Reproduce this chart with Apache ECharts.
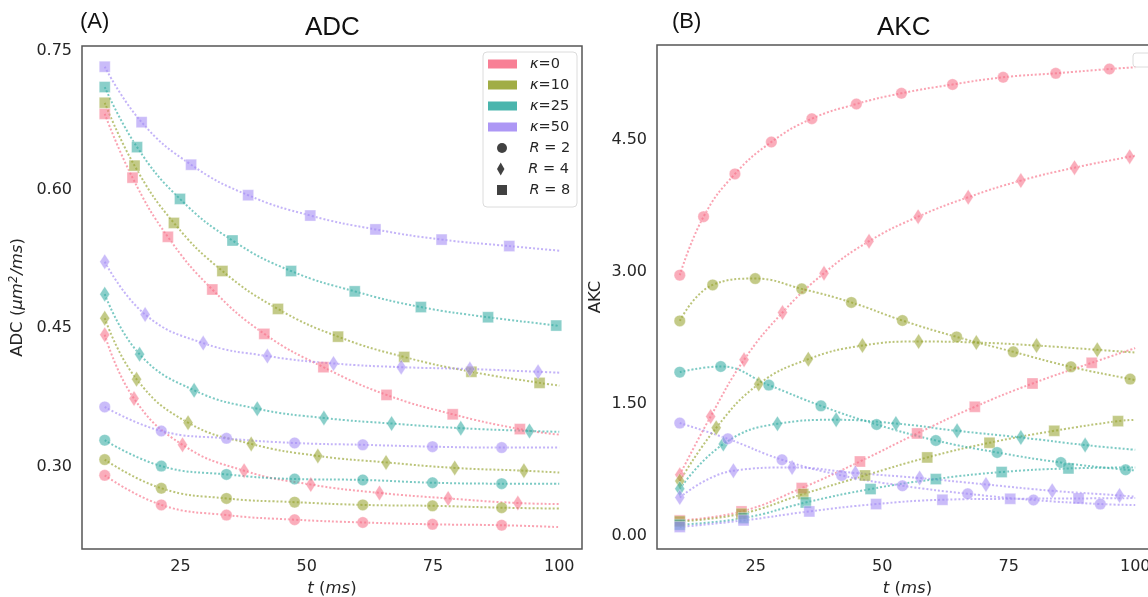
<!DOCTYPE html>
<html>
<head>
<meta charset="utf-8">
<script src="https://cdn.jsdelivr.net/npm/echarts@6/dist/echarts.min.js"></script>
<style>
  html, body { margin: 0; padding: 0; background: #fff; }
  #container { width: 1148px; height: 597px; }
</style>
</head>
<body>
<div id="container"></div>
<script>
// legend names / colours (seaborn husl, 4 colours)
var kappas = ['κ=0', 'κ=10', 'κ=25', 'κ=50'];
var radii = ['R = 2', 'R = 4', 'R = 8'];
var colors = ['#f77189', '#97a431', '#36ada4', '#a48cf4'];

// tick labels
var tTicks = [25, 50, 75, 100];
var adcTicks = [0.30, 0.45, 0.60, 0.75];
var akcTicks = [0.00, 1.50, 3.00, 4.50];

// [t (ms), value]; the last pair of every list is where the fitted line ends (no marker)
// ADC, R = 2
var adcK0R2 = [[10, 0.291], [21.2, 0.259], [34.1, 0.248], [47.6, 0.243], [61.1, 0.240], [74.9, 0.238], [88.6, 0.237], [100, 0.235]];
var adcK10R2 = [[10, 0.308], [21.2, 0.277], [34.1, 0.266], [47.6, 0.262], [61.1, 0.259], [74.9, 0.258], [88.6, 0.256], [100, 0.255]];
var adcK25R2 = [[10, 0.329], [21.2, 0.301], [34.1, 0.292], [47.6, 0.287], [61.1, 0.286], [74.9, 0.283], [88.6, 0.282], [100, 0.282]];
var adcK50R2 = [[10, 0.365], [21.2, 0.339], [34.1, 0.331], [47.6, 0.326], [61.1, 0.324], [74.9, 0.322], [88.6, 0.321], [100, 0.321]];
// ADC, R = 4
var adcK0R4 = [[10, 0.443], [15.8, 0.374], [25.4, 0.324], [37.6, 0.296], [50.8, 0.281], [64.4, 0.272], [78.0, 0.266], [91.8, 0.261], [100, 0.260]];
var adcK10R4 = [[10, 0.461], [16.3, 0.395], [26.5, 0.348], [39.0, 0.325], [52.2, 0.312], [65.7, 0.305], [79.3, 0.299], [93.0, 0.296], [100, 0.294]];
var adcK25R4 = [[10, 0.487], [16.9, 0.422], [27.7, 0.383], [40.2, 0.363], [53.4, 0.353], [66.8, 0.347], [80.5, 0.342], [94.1, 0.339], [100, 0.338]];
var adcK50R4 = [[10, 0.522], [18.0, 0.465], [29.5, 0.434], [42.2, 0.420], [55.3, 0.412], [68.7, 0.408], [82.3, 0.406], [95.8, 0.403], [100, 0.402]];
// ADC, R = 8
var adcK0R8 = [[10, 0.682], [15.5, 0.613], [22.5, 0.549], [31.3, 0.492], [41.6, 0.444], [53.3, 0.408], [65.8, 0.378], [78.9, 0.357], [92.2, 0.341], [100, 0.335]];
var adcK10R8 = [[10, 0.694], [15.9, 0.626], [23.7, 0.564], [33.3, 0.512], [44.3, 0.471], [56.2, 0.441], [69.3, 0.419], [82.6, 0.403], [96.1, 0.391], [100, 0.388]];
var adcK25R8 = [[10, 0.711], [16.4, 0.646], [24.9, 0.590], [35.3, 0.545], [46.9, 0.512], [59.5, 0.490], [72.6, 0.473], [85.9, 0.462], [99.4, 0.453], [100, 0.452]];
var adcK50R8 = [[10, 0.733], [17.3, 0.673], [27.1, 0.627], [38.4, 0.594], [50.7, 0.572], [63.6, 0.557], [76.7, 0.546], [90.1, 0.539], [100, 0.534]];

// AKC, R = 2
var akcK0R2 = [[10, 2.963], [14.7, 3.628], [20.9, 4.114], [28.1, 4.477], [36.1, 4.742], [44.9, 4.909], [53.8, 5.031], [63.9, 5.131], [73.9, 5.213], [84.3, 5.258], [94.9, 5.307], [100, 5.326]];
var akcK10R2 = [[10, 2.443], [16.5, 2.852], [24.9, 2.924], [34.1, 2.807], [43.9, 2.653], [54.0, 2.447], [64.7, 2.261], [75.9, 2.091], [87.3, 1.920], [99.0, 1.781], [100, 1.770]];
var akcK25R2 = [[10, 1.860], [18.1, 1.924], [27.6, 1.713], [37.9, 1.477], [48.9, 1.265], [60.6, 1.083], [72.7, 0.947], [85.3, 0.833], [98.1, 0.750], [100, 0.745]];
var akcK50R2 = [[10, 1.281], [19.5, 1.102], [30.2, 0.864], [42.0, 0.685], [54.0, 0.568], [66.9, 0.477], [79.9, 0.406], [93.1, 0.360], [100, 0.349]];
// AKC, R = 4
var akcK0R4 = [[10, 0.693], [16.1, 1.356], [22.7, 2.000], [30.3, 2.538], [38.5, 2.985], [47.4, 3.349], [57.1, 3.628], [67.0, 3.849], [77.4, 4.038], [88.0, 4.185], [98.9, 4.310], [100, 4.320]];
var akcK10R4 = [[10, 0.622], [17.2, 1.227], [25.6, 1.724], [35.4, 2.008], [46.1, 2.163], [57.2, 2.208], [68.6, 2.197], [80.5, 2.163], [92.5, 2.114], [100, 2.083]];
var akcK25R4 = [[10, 0.534], [18.6, 1.042], [29.3, 1.273], [40.9, 1.318], [52.7, 1.276], [64.8, 1.193], [77.4, 1.117], [90.1, 1.031], [100, 0.977]];
var akcK50R4 = [[10, 0.435], [20.6, 0.739], [32.2, 0.776], [44.7, 0.713], [57.4, 0.656], [70.5, 0.583], [83.6, 0.511], [96.9, 0.458], [100, 0.443]];
// AKC, R = 8
var akcK0R8 = [[10, 0.174], [22.2, 0.276], [34.1, 0.542], [45.6, 0.844], [56.9, 1.163], [68.3, 1.466], [79.7, 1.731], [91.4, 1.966], [100, 2.133]];
var akcK10R8 = [[10, 0.163], [22.2, 0.250], [34.4, 0.474], [46.6, 0.685], [58.9, 0.890], [71.2, 1.057], [84.0, 1.193], [96.6, 1.303], [100, 1.318]];
var akcK25R8 = [[10, 0.125], [22.6, 0.201], [34.9, 0.378], [47.7, 0.531], [60.6, 0.644], [73.6, 0.724], [86.8, 0.765], [100, 0.776]];
var akcK50R8 = [[10, 0.099], [22.6, 0.174], [35.6, 0.276], [48.8, 0.360], [61.9, 0.409], [75.3, 0.420], [88.8, 0.424], [100, 0.428]];

var adcCurves = [
    [adcK0R2, adcK0R4, adcK0R8],
    [adcK10R2, adcK10R4, adcK10R8],
    [adcK25R2, adcK25R4, adcK25R8],
    [adcK50R2, adcK50R4, adcK50R8]
];
var akcCurves = [
    [akcK0R2, akcK0R4, akcK0R8],
    [akcK10R2, akcK10R4, akcK10R8],
    [akcK25R2, akcK25R4, akcK25R8],
    [akcK50R2, akcK50R4, akcK50R8]
];

var FONT = 'DejaVu Sans';
var TXT = '#262626';
var shapes = ['circle', 'diamond', 'rect'];
var sizes = [11.5, [10, 15.5], 11];

function curve(data, k, r, gi, panel) {
    return {
        type: 'line',
        name: panel + ' ' + kappas[k] + ' ' + radii[r],
        xAxisIndex: gi,
        yAxisIndex: gi,
        data: data.map(function (p, i) {
            return i === data.length - 1 ? { value: p, symbol: 'none' } : p;
        }),
        smooth: 0.45,
        symbol: shapes[r],
        symbolSize: sizes[r],
        showAllSymbol: true,
        lineStyle: { color: colors[k], width: 2, type: [2, 2], opacity: 0.65 },
        itemStyle: { color: colors[k], opacity: 0.58, borderColor: '#fff', borderWidth: 0.6 },
        emphasis: { disabled: true },
        animation: false
    };
}

var series = [];
[adcCurves, akcCurves].forEach(function (curves, gi) {
    curves.forEach(function (row, k) {
        row.forEach(function (data, r) {
            series.push(curve(data, k, r, gi, gi === 0 ? 'ADC' : 'AKC'));
        });
    });
});
// empty series that only feed the legend
kappas.forEach(function (name, k) {
    series.push({ type: 'scatter', name: name, data: [], itemStyle: { color: colors[k] } });
});
radii.forEach(function (name) {
    series.push({ type: 'scatter', name: name, data: [], itemStyle: { color: '#111' } });
});

function xAxis(gi) {
    return {
        type: 'value', gridIndex: gi, min: 5.5, max: 104.5,
        axisLine: { show: false }, axisTick: { show: false }, splitLine: { show: false },
        axisLabel: { customValues: tTicks, fontFamily: FONT, fontSize: 16, color: TXT, margin: 10 },
        name: '{i|t} ({i|ms})', nameLocation: 'middle', nameGap: 29,
        nameTextStyle: { fontFamily: FONT, fontSize: 16.5, color: TXT,
            rich: { i: { fontFamily: FONT, fontStyle: 'italic', fontSize: 16.5, color: TXT } } }
    };
}

var legendText = {
    fontFamily: FONT, fontSize: 14.5, color: TXT, lineHeight: 16, padding: [0, 0, 0, 8],
    rich: {
        i: { fontFamily: FONT, fontStyle: 'italic', fontSize: 14.5, color: TXT },
        n: { fontFamily: FONT, fontSize: 14.5, color: TXT }
    }
};
function legendFmt(name) {
    var m = name.match(/^(κ|R)(.*)$/);
    return '{i|' + m[1] + '}{n|' + m[2] + '}';
}
function rLegend(name, icon, h, top) {
    return {
        data: [{ name: name, icon: icon }], left: 497, top: top, padding: 0,
        itemWidth: 29, itemHeight: h, selectedMode: false,
        textStyle: legendText, formatter: legendFmt
    };
}

var option = {
    backgroundColor: '#fff',
    animation: false,
    title: [
        { text: 'ADC', left: 305, top: 15, padding: 0, textStyle: { fontFamily: 'Liberation Sans', fontSize: 26, fontWeight: 'normal', color: '#111' } },
        { text: '(A)', left: 80, top: 11, padding: 0, textStyle: { fontFamily: 'Liberation Sans', fontSize: 22, fontWeight: 'normal', color: '#111' } },
        { text: 'AKC', left: 877, top: 15, padding: 0, textStyle: { fontFamily: 'Liberation Sans', fontSize: 26, fontWeight: 'normal', color: '#111' } },
        { text: '(B)', left: 672, top: 11, padding: 0, textStyle: { fontFamily: 'Liberation Sans', fontSize: 22, fontWeight: 'normal', color: '#111' } }
    ],
    grid: [
        { left: 82, top: 46, width: 500, height: 503, outerBoundsMode: 'none',
          show: true, borderColor: '#555', borderWidth: 1.5, backgroundColor: 'transparent' },
        { left: 657, top: 45, width: 501, height: 504, outerBoundsMode: 'none',
          show: true, borderColor: '#555', borderWidth: 1.5, backgroundColor: 'transparent' }
    ],
    xAxis: [xAxis(0), xAxis(1)],
    yAxis: [
        {
            type: 'value', gridIndex: 0, min: 0.2113, max: 0.7554,
            axisLine: { show: false }, axisTick: { show: false }, splitLine: { show: false },
            axisLabel: { customValues: adcTicks, formatter: function (v) { return v.toFixed(2); },
                fontFamily: FONT, fontSize: 16, color: TXT, margin: 10 },
            name: '{n|ADC (}{i|μm}{s|2}{i|/ms}{n|)}', nameLocation: 'middle', nameGap: 54, nameRotate: 90,
            nameTextStyle: { fontFamily: FONT, fontSize: 16.5, color: TXT,
                rich: {
                    n: { fontFamily: FONT, fontSize: 16.5, color: TXT },
                    i: { fontFamily: FONT, fontStyle: 'italic', fontSize: 16.5, color: TXT },
                    s: { fontFamily: FONT, fontStyle: 'italic', fontSize: 11.5, color: TXT, verticalAlign: 'top', padding: [0, 1, 8, 0] }
                } }
        },
        {
            type: 'value', gridIndex: 1, min: -0.151, max: 5.58,
            axisLine: { show: false }, axisTick: { show: false }, splitLine: { show: false },
            axisLabel: { customValues: akcTicks, formatter: function (v) { return v.toFixed(2); },
                fontFamily: FONT, fontSize: 16, color: TXT, margin: 10 },
            name: 'AKC', nameLocation: 'middle', nameGap: 53, nameRotate: 90,
            nameTextStyle: { fontFamily: FONT, fontSize: 16.5, color: TXT }
        }
    ],
    legend: [
        {
            data: kappas.map(function (n, k) {
                return { name: n, icon: 'rect', itemStyle: { color: colors[k], opacity: 0.9 } };
            }),
            orient: 'vertical', left: 488, top: 56, padding: 0, itemGap: 5,
            itemWidth: 29, itemHeight: 9, selectedMode: false,
            textStyle: legendText, formatter: legendFmt
        },
        rLegend('R = 2', 'circle', 10, 140),
        rLegend('R = 4', 'path://M4,0L8,7L4,14L0,7Z', 13, 161),
        rLegend('R = 8', 'path://M0,0H10V10H0Z', 10, 182)
    ],
    graphic: [
        { type: 'rect', z: 3, shape: { x: 483, y: 52, width: 94, height: 155, r: 4 },
          style: { fill: 'rgba(255,255,255,0.85)', stroke: '#dcdcdc', lineWidth: 1 } },
        { type: 'rect', z: 3, shape: { x: 1133, y: 53, width: 20, height: 14, r: 3 },
          style: { fill: '#fff', stroke: '#dcdcdc', lineWidth: 1 } }
    ],
    series: series
};

var myChart = echarts.init(document.getElementById('container'));
myChart.setOption(option);
</script>
</body>
</html>
